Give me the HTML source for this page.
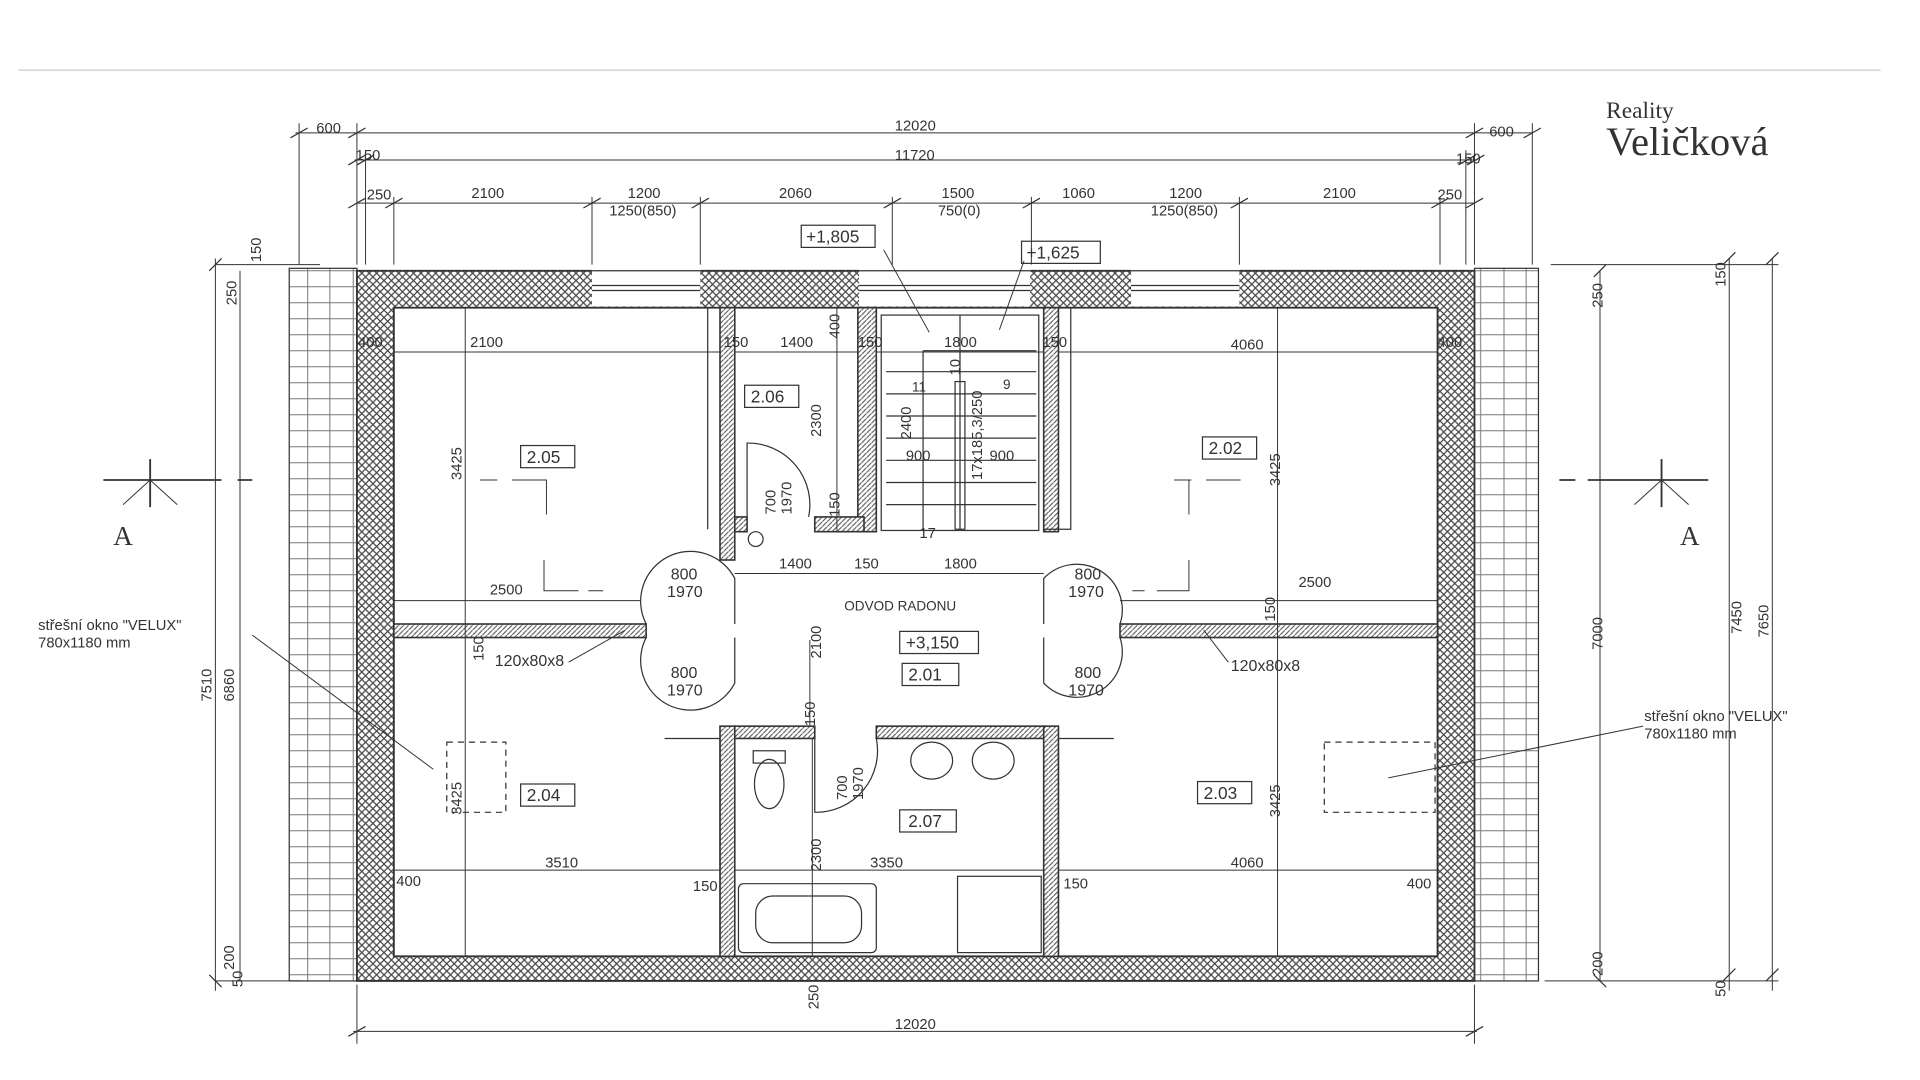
<!DOCTYPE html>
<html><head><meta charset="utf-8"><style>html,body{margin:0;padding:0;background:#fff;width:1920px;height:1080px;overflow:hidden}svg{display:block}</style></head>
<body>
<svg width="1920" height="1080" viewBox="0 0 1560 877.5" preserveAspectRatio="none" xmlns="http://www.w3.org/2000/svg" font-family="Liberation Sans, sans-serif" fill="none" stroke="#333">
<defs>
<pattern id="x" width="6" height="6" patternUnits="userSpaceOnUse"><rect width="6" height="6" fill="#fff" stroke="none"/><path d="M0 0L6 6M6 0L0 6" stroke="#444" stroke-width="1"/></pattern>
<pattern id="d" width="4" height="4" patternUnits="userSpaceOnUse"><rect width="4" height="4" fill="#fff" stroke="none"/><path d="M0 4L4 0" stroke="#555" stroke-width="0.9"/></pattern>
<pattern id="t" width="55" height="13" patternUnits="userSpaceOnUse"><rect width="55" height="13" fill="#fff" stroke="none"/><path d="M0 12H55M12 0V13M30 0V13M48 0V13" stroke="#777" stroke-width="0.8"/></pattern>
</defs>
<line x1="15" y1="57" x2="1528" y2="57" stroke="#ccc"/>
<text x="1305" y="96" font-family="Liberation Serif, serif" font-size="19" fill="#333" stroke="none">Reality</text>
<text x="1305" y="126" font-family="Liberation Serif, serif" font-size="33" fill="#333" stroke="none">Veličková</text>

<!-- roof strips -->
<rect x="235" y="218" width="55" height="579" fill="url(#t)" stroke-width="1"/>
<rect x="1198" y="218" width="52" height="579" fill="url(#t)" stroke-width="1"/>
<!-- outer walls -->
<path d="M290 220H1198V797H290Z M320 250V777H1168V250Z" fill="url(#x)" fill-rule="evenodd" stroke-width="1.5"/>
<!-- window gaps in top wall -->
<g fill="#fff" stroke="none"><rect x="481" y="219" width="88" height="30"/><rect x="698" y="219" width="139" height="30"/><rect x="919" y="219" width="88" height="30"/></g>
<g stroke-width="1"><path d="M481 220H569M481 232H569M481 236H569M481 250H569M698 220H837M698 232H837M698 236H837M919 220H1007M919 232H1007M919 236H1007M919 250H1007"/></g>
<!-- partitions -->
<g fill="url(#d)" stroke-width="1.3">
<rect x="585" y="250" width="12" height="205"/><rect x="585" y="590" width="12" height="187"/>
<rect x="697" y="250" width="15" height="182"/><rect x="848" y="250" width="12" height="182"/><rect x="848" y="590" width="12" height="187"/>
<rect x="320" y="507" width="205" height="11"/><rect x="910" y="507" width="258" height="11"/>
<rect x="597" y="590" width="65" height="10"/><rect x="712" y="590" width="136" height="10"/>
<rect x="597" y="420" width="10" height="12"/><rect x="662" y="420" width="40" height="12"/>
</g>
<!-- stairs -->
<g stroke-width="1">
<rect x="716" y="256" width="128" height="175"/>
<path d="M750 285H842M720 302H842M720 320H842M720 338H842M720 356H842M720 374H842M720 392H842M720 410H842M750 285V431M780 256V431"/>
<rect x="776" y="310" width="8" height="120"/>
</g>
<!-- doors -->
<g stroke-width="1">
<path d="M525 507A37 37 0 0 1 597 470V507M525 518A37 37 0 0 0 597 555V518M910 507A37 37 0 0 0 848 470V507M910 518A37 37 0 0 1 848 555V518M607 420V360A50 50 0 0 1 657 420M662 600V660A50 50 0 0 0 712 600"/>
</g>
<!-- fixtures -->
<g stroke-width="1">
<ellipse cx="625" cy="637" rx="12" ry="20"/><rect x="612" y="610" width="26" height="10"/>
<ellipse cx="757" cy="618" rx="17" ry="15"/><ellipse cx="807" cy="618" rx="17" ry="15"/>
<rect x="600" y="718" width="112" height="56" rx="4"/><rect x="614" y="728" width="86" height="38" rx="14"/>
<rect x="778" y="712" width="68" height="62"/>
<rect x="363" y="603" width="48" height="57" stroke-dasharray="5 4"/><rect x="1076" y="603" width="90" height="57" stroke-dasharray="5 4"/>
<path d="M540 600H585V777M905 600H860V777M870 250V430H848M575 250V430"/>
</g>
<!-- interior dimension lines -->
<g stroke-width="0.8">
<path d="M320 286H585M597 286H697M712 286H848M860 286H1168M320 488H520M597 466H848M910 488H1168M320 707H585M597 707H848M860 707H1168M378 250V777M1038 250V777M680 250V432M660 600V777M658 520V590"/>
<path d="M390 390H404M416 390H444V418M954 390H968M980 390H1008M966 390V418M442 455V480H470M478 480H490M966 455V480H940M930 480H920"/>
</g>
<g fill="#333" stroke="none" font-size="12">
<text x="382" y="282">2100</text><text x="291" y="282">400</text><text x="588" y="282">150</text><text x="634" y="282">1400</text><text x="697" y="282">150</text><text x="767" y="282">1800</text><text x="847" y="282">150</text><text x="1000" y="284">4060</text><text x="1168" y="282">400</text>
<text x="398" y="483">2500</text><text x="1055" y="477">2500</text><text x="633" y="462">1400</text><text x="694" y="462">150</text><text x="767" y="462">1800</text>
<text x="443" y="705">3510</text><text x="707" y="705">3350</text><text x="1000" y="705">4060</text><text x="322" y="720">400</text><text x="1143" y="722">400</text><text x="563" y="724">150</text><text x="864" y="722">150</text>
<text x="402" y="541" font-size="13">120x80x8</text><text x="1000" y="545" font-size="13">120x80x8</text>
<text x="545" y="471" font-size="13">800</text><text x="542" y="485" font-size="13">1970</text><text x="873" y="471" font-size="13">800</text><text x="868" y="485" font-size="13">1970</text>
<text x="545" y="551" font-size="13">800</text><text x="542" y="565" font-size="13">1970</text><text x="873" y="551" font-size="13">800</text><text x="868" y="565" font-size="13">1970</text>
<text x="686" y="496" font-size="11">ODVOD RADONU</text>
<text x="736" y="374">900</text><text x="804" y="374">900</text><text x="741" y="318" font-size="11">11</text><text x="815" y="316" font-size="11">9</text><text x="747" y="437">17</text>
<text x="31" y="512" font-size="12">střešní okno "VELUX"</text><text x="31" y="526" font-size="12">780x1180 mm</text>
<text x="1336" y="586" font-size="12">střešní okno "VELUX"</text><text x="1336" y="600" font-size="12">780x1180 mm</text>
<text x="92" y="443" font-family="Liberation Serif, serif" font-size="22">A</text><text x="1365" y="443" font-family="Liberation Serif, serif" font-size="22">A</text>
<text x="428" y="376" font-size="14">2.05</text><text x="610" y="327" font-size="14">2.06</text><text x="982" y="369" font-size="14">2.02</text><text x="428" y="651" font-size="14">2.04</text><text x="978" y="649" font-size="14">2.03</text><text x="738" y="553" font-size="14">2.01</text><text x="738" y="672" font-size="14">2.07</text><text x="736" y="527" font-size="14">+3,150</text>
<text x="655" y="197" font-size="14">+1,805</text><text x="834" y="210" font-size="14">+1,625</text>
</g>
<g fill="#333" stroke="none" font-size="12">
<text transform="translate(375 390) rotate(-90)">3425</text><text transform="translate(1040 395) rotate(-90)">3425</text><text transform="translate(375 662) rotate(-90)">3425</text><text transform="translate(1040 664) rotate(-90)">3425</text>
<text transform="translate(667 355) rotate(-90)">2300</text><text transform="translate(740 357) rotate(-90)">2400</text><text transform="translate(667 708) rotate(-90)">2300</text><text transform="translate(667 535) rotate(-90)">2100</text>
<text transform="translate(682 275) rotate(-90)">400</text><text transform="translate(682 420) rotate(-90)">150</text><text transform="translate(662 590) rotate(-90)">150</text><text transform="translate(393 537) rotate(-90)">150</text><text transform="translate(1036 505) rotate(-90)">150</text>
<text transform="translate(630 418) rotate(-90)">700</text><text transform="translate(643 418) rotate(-90)">1970</text><text transform="translate(688 650) rotate(-90)">700</text><text transform="translate(701 650) rotate(-90)">1970</text>
<text transform="translate(798 390) rotate(-90)">17x185,3/250</text><text transform="translate(780 305) rotate(-90)">10</text>
<text transform="translate(172 570) rotate(-90)">7510</text><text transform="translate(190 570) rotate(-90)">6860</text><text transform="translate(212 213) rotate(-90)">150</text><text transform="translate(192 248) rotate(-90)">250</text><text transform="translate(190 788) rotate(-90)">200</text><text transform="translate(197 802) rotate(-90)">50</text>
<text transform="translate(1302 528) rotate(-90)">7000</text><text transform="translate(1415 515) rotate(-90)">7450</text><text transform="translate(1437 518) rotate(-90)">7650</text><text transform="translate(1402 233) rotate(-90)">150</text><text transform="translate(1302 250) rotate(-90)">250</text><text transform="translate(1302 793) rotate(-90)">200</text><text transform="translate(1402 810) rotate(-90)">50</text>
<text transform="translate(665 820) rotate(-90)">250</text>
</g>
<!-- section markers -->
<g stroke-width="1.5"><path d="M84 390H180M193 390H205M122 373V412M1267 390H1280M1290 390H1388M1350 373V412"/><path d="M100 410L122 390L144 410M1328 410L1350 390L1372 410" stroke-width="0.8"/></g>
<!-- leader lines -->
<g stroke-width="0.8"><path d="M205 516L352 625M1128 632L1335 590M718 203L755 270M832 212L812 268M462 538L508 512M998 538L978 512"/></g>
<!-- top dims -->
<g stroke-width="0.8">
<path d="M240 108H1245M288 130H1200M290 165H1198M243 100V215M290 100V215M1198 100V215M1245 100V215M297 122V215M1191 122V215M320 160V215M481 160V215M569 160V215M725 160V215M838 160V215M1007 160V215M1170 160V215"/>
<path d="M287 838H1200M290 800V848M1198 800V848M175 215H260M175 797H245M175 210V805M195 220V797M1300 220V797M1405 210V805M1440 210V805M1260 215H1445M1255 797H1445"/>
</g>
<g stroke-width="1"><path d="M236 112L250 104M283 112L297 104M1191 112L1205 104M1238 112L1252 104M283 134L297 126M290 134L304 126M1185 134L1199 126M1192 134L1206 126M283 169L297 161M313 169L327 161M474 169L488 161M562 169L576 161M718 169L732 161M831 169L845 161M1000 169L1014 161M1163 169L1177 161M1191 169L1205 161M283 842L297 834M1191 842L1205 834M170 220L180 210M170 792L180 802M1295 225L1305 215M1295 792L1305 802M1400 215L1410 205M1435 215L1445 205M1400 797L1410 787M1435 797L1445 787"/></g>
<g fill="#333" stroke="none" font-size="12">
<text x="257" y="108">600</text><text x="727" y="106">12020</text><text x="1210" y="111">600</text>
<text x="289" y="130">150</text><text x="727" y="130">11720</text><text x="1183" y="133">150</text>
<text x="298" y="162">250</text><text x="383" y="161">2100</text><text x="510" y="161">1200</text><text x="495" y="175">1250(850)</text><text x="633" y="161">2060</text><text x="765" y="161">1500</text><text x="762" y="175">750(0)</text><text x="863" y="161">1060</text><text x="950" y="161">1200</text><text x="935" y="175">1250(850)</text><text x="1075" y="161">2100</text><text x="1168" y="162">250</text>
<text x="727" y="836">12020</text>
</g>
<g stroke-width="1"><rect x="423" y="362" width="44" height="18"/><rect x="605" y="313" width="44" height="18"/><rect x="977" y="355" width="44" height="18"/><rect x="423" y="637" width="44" height="18"/><rect x="973" y="635" width="44" height="18"/><rect x="733" y="539" width="46" height="18"/><rect x="731" y="513" width="64" height="18"/><rect x="731" y="658" width="46" height="18"/><rect x="651" y="183" width="60" height="18"/><rect x="830" y="196" width="64" height="18"/><circle cx="614" cy="438" r="6"/></g>
</svg>
</body></html>
